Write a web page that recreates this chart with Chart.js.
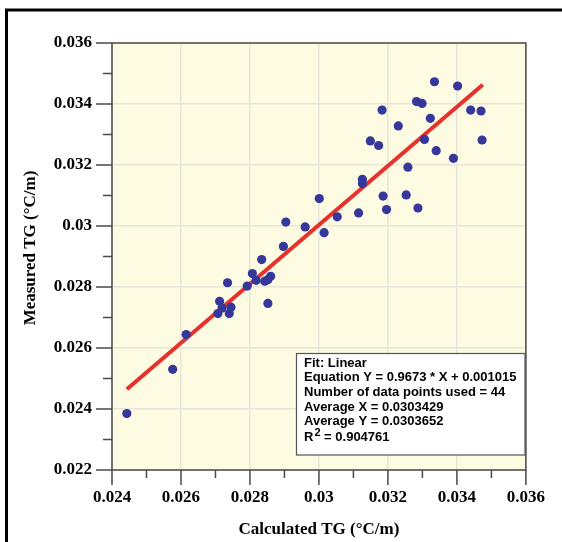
<!DOCTYPE html>
<html><head><meta charset="utf-8">
<script src="https://cdn.jsdelivr.net/npm/chart.js@4/dist/chart.umd.min.js"></script>
<style>html,body{margin:0;padding:0;background:#fff;}canvas{display:block}</style>
</head><body>
<canvas id="c" width="562" height="542"></canvas>
<script>
// ---- data ----
const calculatedTG = [0.02443,0.02576,0.02615,0.02707,0.02712,0.02719,0.02745,0.02740,0.02735,0.02792,0.02807,0.02818,0.02843,0.02852,0.02860,0.02852,0.02834,0.02897,0.02904,
  0.02960,0.03015,0.03001,0.03053,0.03115,0.03126,0.03126,0.03186,0.03196,0.03253,0.03287,
  0.03335,0.03283,0.03299,0.03183,0.03323,0.03230,0.03149,0.03173,0.03306,0.03340,
  0.03402,0.03440,0.03470,0.03473,0.03390,0.03258];
const measuredTG = [0.02385,0.02530,0.02644,0.02713,0.02753,0.02731,0.02734,0.02713,0.02814,0.02803,0.02844,0.02822,0.02819,0.02824,0.02835,0.02746,0.02890,0.02933,0.03013,
  0.02997,0.02978,0.03090,0.03030,0.03043,0.03153,0.03139,0.03098,0.03054,0.03102,0.03059,
  0.03473,0.03408,0.03402,0.03380,0.03353,0.03328,0.03279,0.03264,0.03284,0.03247,
  0.03459,0.03380,0.03377,0.03282,0.03222,0.03193];
const fitLineX = [0.02443, 0.03475];
const fitLineY = [0.024646, 0.034629];
const xTickValues = [0.024,0.025,0.026,0.027,0.028,0.029,0.030,0.031,0.032,0.033,0.034,0.035,0.036];
const yTickValues = [0.022,0.023,0.024,0.025,0.026,0.027,0.028,0.029,0.030,0.031,0.032,0.033,0.034,0.035,0.036];
const xTickLabels = ['0.024','0.026','0.028','0.03','0.032','0.034','0.036'];
const yTickLabels = ['0.022','0.024','0.026','0.028','0.03','0.032','0.034','0.036'];
const xTitle = 'Calculated TG (\u00B0C/m)';
const yTitle = 'Measured TG (\u00B0C/m)';
const fitLines = ['Fit: Linear','Equation Y = 0.9673 * X + 0.001015','Number of data points used = 44','Average X = 0.0303429','Average Y = 0.0303652'];
const r2Parts = ['R','2',' = 0.904761'];

const SERIF = '"Liberation Serif","Times New Roman",serif';
const SANS = '"Liberation Sans",Arial,sans-serif';
const isMajor = v => Math.round(v*1000) % 2 === 0;
function labelFor(v, vals, labels){
  const majors = vals.filter(isMajor);
  const i = majors.findIndex(m => Math.abs(m - v) < 1e-9);
  return i >= 0 ? labels[i] : '';
}

const decor = {
  id: 'decor',
  beforeDraw(chart){
    const {ctx, chartArea: a} = chart;
    ctx.save();
    ctx.fillStyle = '#fff';
    ctx.fillRect(0,0,chart.width,chart.height);
    ctx.fillStyle = '#FEFBE3';
    ctx.fillRect(a.left, a.top, a.right-a.left, a.bottom-a.top);
    ctx.strokeStyle = '#000';
    ctx.lineWidth = 3;
    ctx.strokeRect(6.5, 10, 800, 800);
    ctx.restore();
  },
  afterDraw(chart){
    const {ctx, chartArea: a, scales} = chart;
    ctx.save();
    ctx.strokeStyle = '#4a4a4a';
    ctx.lineWidth = 1.5;
    ctx.strokeRect(a.left, a.top, a.right-a.left, a.bottom-a.top);
    ctx.beginPath();
    scales.x.ticks.forEach(t => {
      const px = scales.x.getPixelForValue(t.value);
      const len = isMajor(t.value) ? 15 : 8;
      ctx.moveTo(px, a.bottom); ctx.lineTo(px, a.bottom + len);
    });
    scales.y.ticks.forEach(t => {
      const py = scales.y.getPixelForValue(t.value);
      const len = isMajor(t.value) ? 16 : 9;
      ctx.moveTo(a.left - len, py); ctx.lineTo(a.left, py);
    });
    ctx.stroke();
    // fit info box
    const bx = a.left + 184.5, by = a.top + 310.5, bw = 228.5, bh = 101.5;
    ctx.fillStyle = '#fff';
    ctx.fillRect(bx, by, bw, bh);
    ctx.strokeStyle = '#555';
    ctx.lineWidth = 1.2;
    ctx.strokeRect(bx, by, bw, bh);
    ctx.fillStyle = '#000';
    ctx.textBaseline = 'middle';
    ctx.textAlign = 'left';
    ctx.font = 'bold 13px ' + SANS;
    const tx = bx + 7.5;
    let ty = by + 9.8;
    fitLines.forEach(s => { ctx.fillText(s, tx, ty); ty += 14.6; });
    let rx = tx;
    ctx.fillText(r2Parts[0], rx, ty + 1);
    rx += ctx.measureText(r2Parts[0]).width + 1;
    ctx.font = 'bold 11px ' + SANS;
    ctx.fillText(r2Parts[1], rx, ty - 3);
    rx += ctx.measureText(r2Parts[1]).width;
    ctx.font = 'bold 13px ' + SANS;
    ctx.fillText(r2Parts[2], rx, ty + 1);
    ctx.restore();
  }
};

const gridColor = c => (c.tick && isMajor(c.tick.value)) ? '#E8E6DA' : 'rgba(0,0,0,0)';

new Chart(document.getElementById('c'), {
  data: {
    datasets: [
      { type: 'scatter', label: 'Measured', order: 1,
        data: calculatedTG.map((x,i) => ({x, y: measuredTG[i]})),
        backgroundColor: '#35389A', borderWidth: 0, pointRadius: 4.6, pointHoverRadius: 4.6 },
      { type: 'line', label: 'Fit', order: 2,
        data: fitLineX.map((x,i) => ({x, y: fitLineY[i]})),
        borderColor: '#E8312D', borderWidth: 4, pointRadius: 0, fill: false, tension: 0 }
    ]
  },
  options: {
    responsive: false, animation: false, devicePixelRatio: 1,
    layout: { padding: { top: 43, right: 22, left: 0, bottom: 0 } },
    plugins: { legend: { display: false }, tooltip: { enabled: false } },
    scales: {
      x: {
        type: 'linear', min: 0.024, max: 0.036,
        afterBuildTicks: s => { s.ticks = xTickValues.map(v => ({value: v})); },
        afterFit: s => { s.height = 72; },
        ticks: { autoSkip: false, maxRotation: 0, padding: 17, color: '#000',
          font: { family: SERIF, size: 17, weight: 'bold' },
          callback: v => labelFor(v, xTickValues, xTickLabels) },
        grid: { color: gridColor, lineWidth: 1.5, drawTicks: false },
        border: { display: false },
        title: { display: true, text: xTitle, color: '#000', padding: { top: 0, bottom: 2 },
          font: { family: SERIF, size: 17, weight: 'bold' } }
      },
      y: {
        type: 'linear', min: 0.022, max: 0.036,
        afterBuildTicks: s => { s.ticks = yTickValues.map(v => ({value: v})); },
        afterFit: s => { s.width = 112; },
        ticks: { autoSkip: false, padding: 20, color: '#000',
          font: { family: SERIF, size: 17, weight: 'bold' },
          callback: v => labelFor(v, yTickValues, yTickLabels) },
        grid: { color: gridColor, lineWidth: 1.5, drawTicks: false },
        border: { display: false },
        title: { display: true, text: '\u00A0\u00A0\u00A0\u00A0' + yTitle, color: '#000', padding: { top: 20, bottom: 0 },
          font: { family: SERIF, size: 17, weight: 'bold' } }
      }
    }
  },
  plugins: [decor]
});
</script>
</body></html>
